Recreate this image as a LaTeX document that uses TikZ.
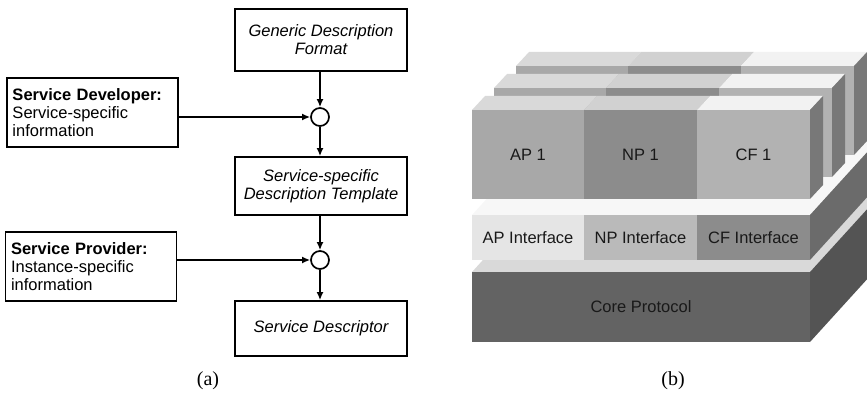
\documentclass[tikz,border=0pt]{standalone}
\usepackage{fontspec}
\setmainfont{Liberation Serif}
\newfontfamily\arial{Liberation Sans}
\usepackage{tikz}
\usetikzlibrary{arrows.meta,positioning}

\begin{document}
\begin{tikzpicture}[x=1pt,y=-1pt,
  box/.style={draw,line width=1.7pt,minimum width=172pt,align=center,font=\arial\itshape\fontsize{16.5}{18}\selectfont},
  inbox/.style={draw,line width=1.7pt,text width=160pt,inner xsep=5.5pt,align=left,minimum height=69pt,font=\arial\fontsize{16.5}{18}\selectfont},
  junc/.style={draw,circle,line width=1.7pt,minimum size=18pt,inner sep=0pt},
  flow/.style={-{Latex[length=8pt,width=7pt]},line width=1.6pt},
  lbl/.style={font=\arial\fontsize{16.5}{18}\selectfont,text=black!90},
  subcap/.style={font=\fontsize{20}{22}\selectfont}]
  \useasboundingbox (0,0) rectangle (867,393);

  % (a) building the descriptor
  \node[box,minimum height=62pt] (gdf) at (321,40) {Generic Description\\Format};
  \node[junc] (j1) at (320,117) {};
  \node[box,minimum height=58pt] (sdt) at (321,186) {Service-specific\\Description Template};
  \node[junc] (j2) at (320,260) {};
  \node[box,minimum height=55pt] (sd) at (321,328.5) {Service Descriptor};
  \node[inbox] (dev) at (92.5,112.5) {\textbf{Service Developer:}\\Service-specific\\information};
  \node[inbox] (prov) at (91,266.5) {\textbf{Service Provider:}\\Instance-specific\\information};
  \draw[flow] (j1 |- gdf.south) -- (j1);
  \draw[flow] (j1) -- (j1 |- sdt.north);
  \draw[flow] (dev.east |- j1) -- (j1);
  \draw[flow] (j2 |- sdt.south) -- (j2);
  \draw[flow] (j2) -- (j2 |- sd.north);
  \draw[flow] (prov.east |- j2) -- (j2);
  \node[subcap] (capa) at (208,381) {(a)};

  % (b) layered protocol stack
  \begin{scope}
    \clip (440,0) rectangle (867,393);
    % core slab
    \fill[black!15] (472,272) -- (810,272) -- ++(80,-88) -- (552,184) -- cycle;
    \fill[black!67] (810,272) -- ++(80,-88) -- ++(0,70) -- (810,342) -- cycle;
    \fill[black!61] (472,272) rectangle (810,342);
    \node[lbl] (core) at (641,307) {Core Protocol};
    % interface slab
    \fill[black!3] (472,215) -- (810,215) -- ++(80,-88) -- (552,127) -- cycle;
    \fill[black!58] (810,215) -- ++(80,-88) -- ++(0,45) -- (810,260) -- cycle;
    \foreach \a/\b/\c/\n in {472/584/10/AP,584/697/27/NP,697/810/45/CF}{
      \fill[black!\c] (\a,215) rectangle (\b,260);
      \node[lbl] (if\n) at ({(\a+\b)/2},237.5) {\n\ Interface};
    }
    % plug-in rows, back to front
    \foreach \r in {2,1,0}{
      \begin{scope}[shift={({22*\r},{-22*\r})}]
        \foreach \a/\b/\f/\t in {472/584/34/15,584/697/45/18,697/810/30/5}{
          \fill[black!\t] (\a,110) -- (\b,110) -- ++(13,-14) -- ({\a+13},96) -- cycle;
          \fill[black!\f] (\a,110) rectangle (\b,199);
        }
        \fill[black!53] (810,110) -- ++(13,-14) -- ++(0,89) -- (810,199) -- cycle;
      \end{scope}
    }
    \node[lbl] (ap) at (528,154.5) {AP 1};
    \node[lbl] (np) at (640.5,154.5) {NP 1};
    \node[lbl] (cf) at (753.5,154.5) {CF 1};
  \end{scope}
  \node[subcap] (capb) at (673,381) {(b)};
\end{tikzpicture}
\end{document}
